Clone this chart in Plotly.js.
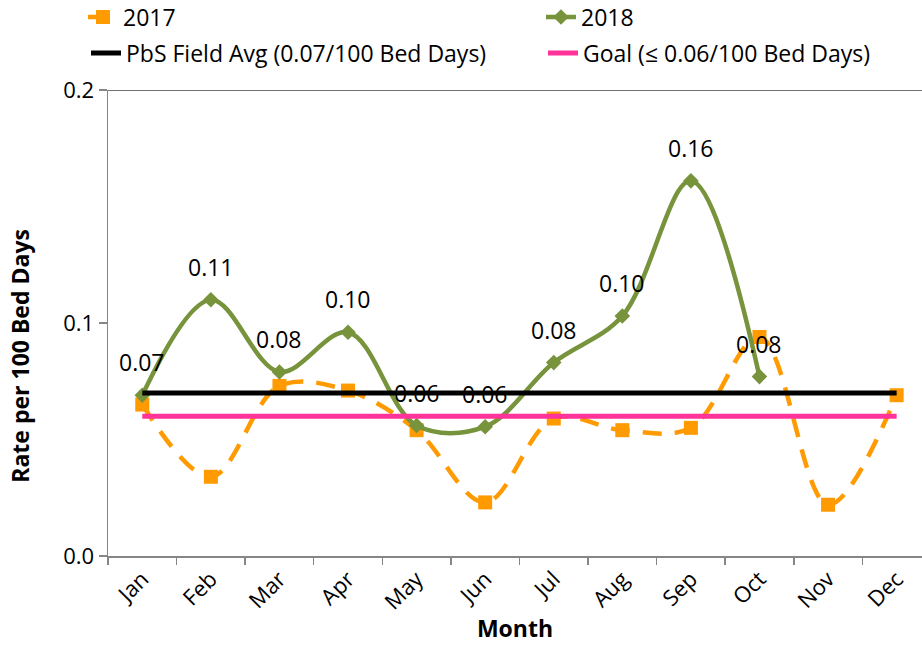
<!DOCTYPE html>
<html>
<head>
<meta charset="utf-8">
<script src="https://cdn.plot.ly/plotly-3.0.1.min.js"></script>
<style>html,body{margin:0;padding:0;background:#fff}#chart{width:922px;height:649px}</style>
</head>
<body>
<div id="chart"></div>
<script>
const months = ["Jan","Feb","Mar","Apr","May","Jun","Jul","Aug","Sep","Oct","Nov","Dec"];
const rate2017 = [0.065,0.034,0.073,0.071,0.054,0.023,0.059,0.054,0.055,0.094,0.022,0.069];
const months2018 = ["Jan","Feb","Mar","Apr","May","Jun","Jul","Aug","Sep","Oct"];
const rate2018 = [0.069,0.110,0.079,0.096,0.056,0.0555,0.083,0.103,0.161,0.077];
const fieldAvg = [0.07,0.07,0.07,0.07,0.07,0.07,0.07,0.07,0.07,0.07,0.07,0.07];
const goal = [0.06,0.06,0.06,0.06,0.06,0.06,0.06,0.06,0.06,0.06,0.06,0.06];
const yTickVals = [0, 0.1, 0.2];
const yTickText = ["0.0","0.1","0.2"];

const FONT = "'Open Sans', 'Noto Sans', sans-serif";

const traces = [
  {x: months, y: rate2017, name: "2017", type: "scatter", mode: "lines+markers", legend: "legend",
   line: {color: "#FF9A00", width: 4.5, dash: "19px,13px", shape: "spline", smoothing: 1},
   marker: {symbol: "square", size: 14, color: "#FF9A00"}},
  {x: months2018, y: rate2018, name: "2018", type: "scatter", mode: "lines+markers", legend: "legend2",
   line: {color: "#77933C", width: 4.5, shape: "spline", smoothing: 1},
   marker: {symbol: "diamond", size: 12, color: "#77933C"}},
  {x: months, y: fieldAvg, name: "PbS Field Avg (0.07/100 Bed Days)", type: "scatter", mode: "lines", legend: "legend3",
   line: {color: "#000000", width: 5}},
  {x: months, y: goal, name: "Goal (\u2264 0.06/100 Bed Days)", type: "scatter", mode: "lines", legend: "legend4",
   line: {color: "#FF3399", width: 5}}
];

const annotations = months2018.map((m, i) => ({
  x: m, y: rate2018[i], xref: "x", yref: "y", text: rate2018[i].toFixed(2),
  showarrow: false, yshift: 33, font: {family: FONT, size: 23, color: "#000"}
}));
annotations.push({
  text: "Rate per 100 Bed Days", xref: "paper", yref: "paper", x: -0.108, y: 0.43,
  textangle: -90, showarrow: false, xanchor: "center", yanchor: "middle",
  font: {family: FONT, size: 23, color: "#000", weight: "bold"}
});

function leg(px, py) {
  return {orientation: "h", xref: "container", yref: "container",
          x: px / 922, y: 1 - py / 649, xanchor: "left", yanchor: "middle",
          font: {family: FONT, size: 23, color: "#000"}, bgcolor: "rgba(0,0,0,0)", borderwidth: 0};
}

const layout = {
  width: 922, height: 649,
  margin: {l: 108, r: 0, t: 90, b: 93, autoexpand: false},
  paper_bgcolor: "#fff", plot_bgcolor: "#fff",
  font: {family: FONT, size: 20, color: "#000"},
  showlegend: true,
  legend: leg(83, 17),
  legend2: leg(541, 17),
  legend3: leg(86, 53),
  legend4: leg(543, 53),
  xaxis: {type: "category", range: [-0.5, 11.37], tickson: "boundaries",
          ticks: "outside", ticklen: 7, tickcolor: "#868686", tickwidth: 1.5,
          showline: true, linecolor: "#868686", linewidth: 1.5,
          showgrid: false, zeroline: false, tickangle: -45,
          tickfont: {family: FONT, size: 22, color: "#000"},
          title: {text: "Month", font: {family: FONT, size: 23, color: "#000", weight: "bold"}, standoff: 6}},
  yaxis: {range: [0, 0.2], tickvals: yTickVals, ticktext: yTickText,
          ticks: "outside", ticklen: 8, tickcolor: "#868686", tickwidth: 1.5,
          showline: true, linecolor: "#868686", linewidth: 1.5,
          showgrid: false, zeroline: false,
          tickfont: {family: FONT, size: 22, color: "#000"}},
  shapes: [{type: "line", xref: "paper", x0: 0, x1: 1, yref: "y", y0: 0.2, y1: 0.2,
            line: {color: "#404040", width: 1.5}}],
  annotations: annotations
};

Plotly.newPlot("chart", traces, layout, {displayModeBar: false, staticPlot: true});
</script>
</body>
</html>
